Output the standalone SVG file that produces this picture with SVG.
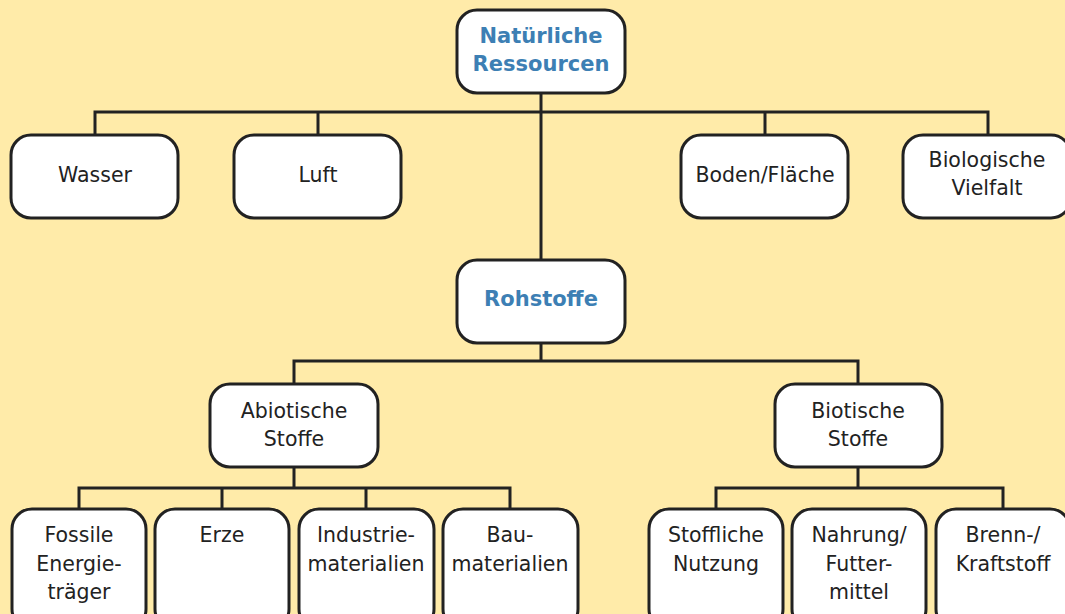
<svg xmlns="http://www.w3.org/2000/svg" width="1065" height="614" viewBox="0 0 1065 614">
<style>
.box{fill:#fff;stroke:#222;stroke-width:3}
.t{font-family:"DejaVu Sans",Verdana,sans-serif;font-size:20.5px;fill:#222;text-anchor:middle}
.h{font-family:"DejaVu Sans",Verdana,sans-serif;font-size:21px;font-weight:bold;fill:#3d7fb4;text-anchor:middle}
.c{fill:none;stroke:#222;stroke-width:3}
</style>
<rect x="0" y="0" width="1065" height="614" fill="#ffeba9"/>
<g id="connectors" class="c">
<path d="M541 93V260"/>
<path d="M95 135V112H988V135"/>
<path d="M318 112V135M765 112V135"/>
<path d="M541 343V361M294 384V361H858V384"/>
<path d="M294 467V488M79 509V488H510V509M222 488V509M366 488V509"/>
<path d="M858 467V488M716 509V488H1003V509"/>
</g>
<g id="n-natuerliche"><rect class="box" x="457" y="10" width="168" height="83" rx="20"/><text class="h" x="541" y="43">Natürliche</text><text class="h" x="541" y="71">Ressourcen</text></g>
<g id="n-wasser"><rect class="box" x="11" y="135" width="167" height="83" rx="20"/><text class="t" x="95" y="182">Wasser</text></g>
<g id="n-luft"><rect class="box" x="234" y="135" width="167" height="83" rx="20"/><text class="t" x="318" y="182">Luft</text></g>
<g id="n-boden"><rect class="box" x="681" y="135" width="167" height="83" rx="20"/><text class="t" x="765" y="182">Boden/Fläche</text></g>
<g id="n-bio"><rect class="box" x="903" y="135" width="168" height="83" rx="20"/><text class="t" x="987" y="167">Biologische</text><text class="t" x="987" y="195">Vielfalt</text></g>
<g id="n-rohstoffe"><rect class="box" x="457" y="260" width="168" height="83" rx="20"/><text class="h" x="541" y="306">Rohstoffe</text></g>
<g id="n-abiotisch"><rect class="box" x="210" y="384" width="168" height="83" rx="20"/><text class="t" x="294" y="418">Abiotische</text><text class="t" x="294" y="446">Stoffe</text></g>
<g id="n-biotisch"><rect class="box" x="775" y="384" width="167" height="83" rx="20"/><text class="t" x="858" y="418">Biotische</text><text class="t" x="858" y="446">Stoffe</text></g>
<g id="n-fossile"><rect class="box" x="12" y="509" width="134" height="120" rx="20"/><text class="t" x="79" y="542">Fossile</text><text class="t" x="79" y="571">Energie-</text><text class="t" x="79" y="599">träger</text></g>
<g id="n-erze"><rect class="box" x="155" y="509" width="134" height="120" rx="20"/><text class="t" x="222" y="542">Erze</text></g>
<g id="n-industrie"><rect class="box" x="299" y="509" width="135" height="120" rx="20"/><text class="t" x="366" y="542">Industrie-</text><text class="t" x="366" y="571">materialien</text></g>
<g id="n-bau"><rect class="box" x="443" y="509" width="135" height="120" rx="20"/><text class="t" x="510" y="542">Bau-</text><text class="t" x="510" y="571">materialien</text></g>
<g id="n-stofflich"><rect class="box" x="649" y="509" width="134" height="120" rx="20"/><text class="t" x="716" y="542">Stoffliche</text><text class="t" x="716" y="571">Nutzung</text></g>
<g id="n-nahrung"><rect class="box" x="792" y="509" width="134" height="120" rx="20"/><text class="t" x="859" y="542">Nahrung/</text><text class="t" x="859" y="571">Futter-</text><text class="t" x="859" y="599">mittel</text></g>
<g id="n-brenn"><rect class="box" x="936" y="509" width="134" height="120" rx="20"/><text class="t" x="1003" y="542">Brenn-/</text><text class="t" x="1003" y="571">Kraftstoff</text></g>
</svg>
